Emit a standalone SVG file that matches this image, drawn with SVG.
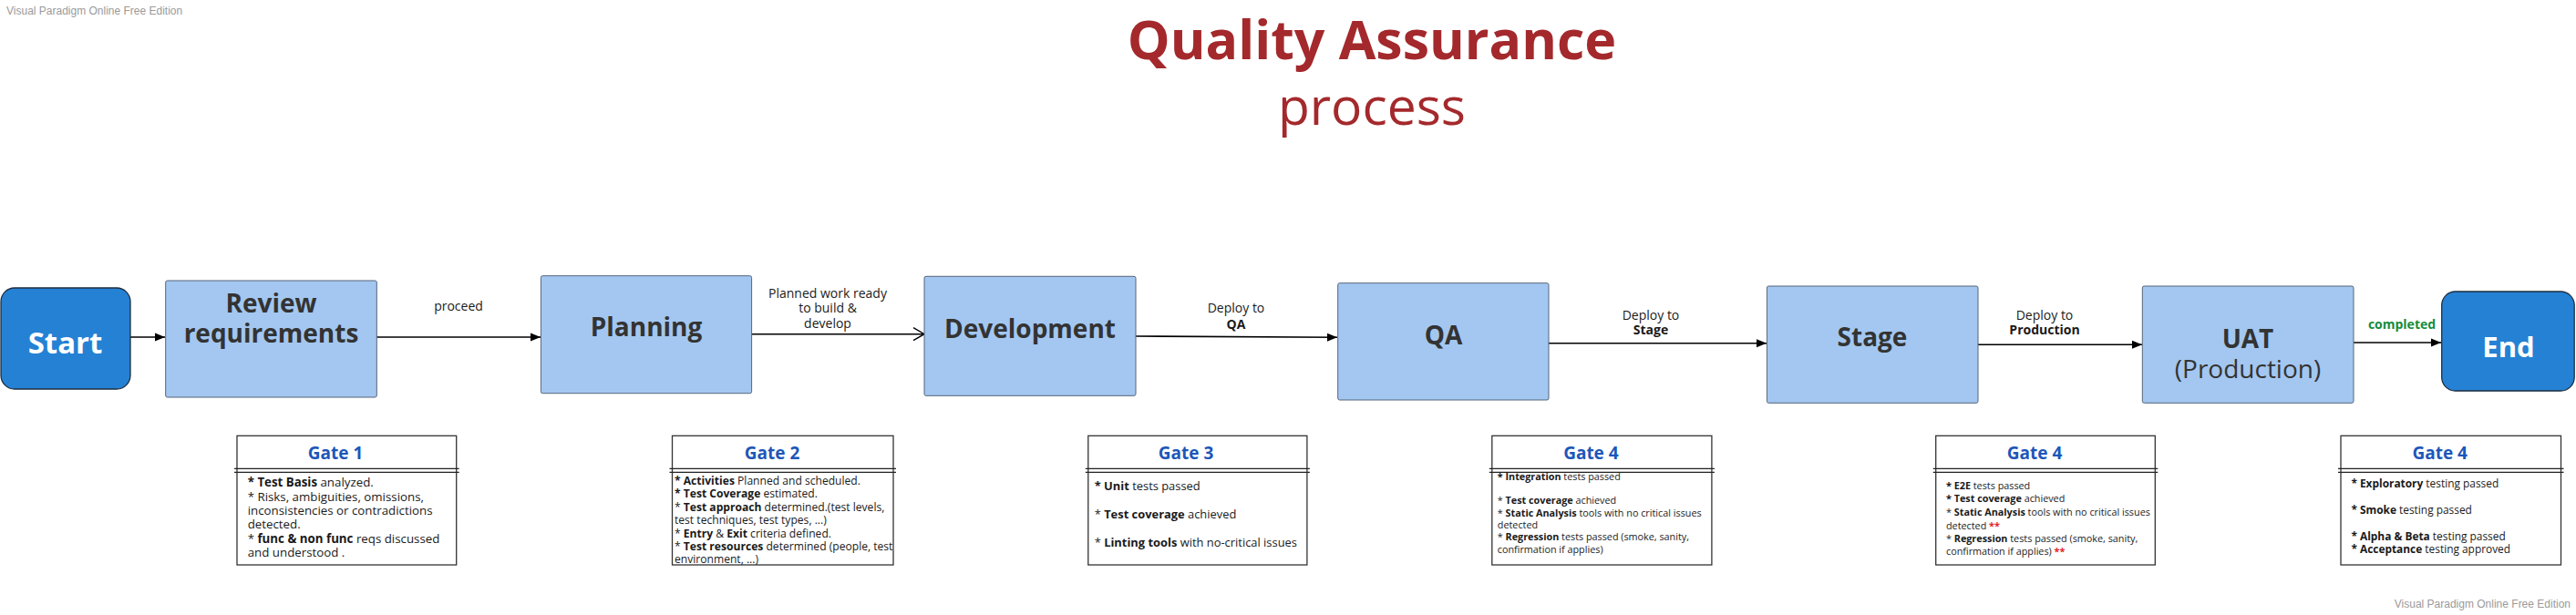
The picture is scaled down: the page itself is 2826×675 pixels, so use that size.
<svg xmlns="http://www.w3.org/2000/svg" width="2826" height="675" viewBox="0 0 2826 675">
<style>
.wm{font-family:"Liberation Sans",Arial,sans-serif;font-size:12px;fill:#9a9a9a}
.title{font-family:"Open Sans",sans-serif;fill:#a4292c;text-anchor:middle}
.term{fill:#2581d4;stroke:#1d2e40;stroke-width:1.3}
.termt{font-family:"Open Sans",sans-serif;font-weight:700;fill:#ffffff;text-anchor:middle}
.step{fill:#a3c7f0;stroke:#56657a;stroke-width:1}
.stept{font-family:"Open Sans",sans-serif;font-size:28px;font-weight:700;fill:#333333;text-anchor:middle}
.stepr{font-family:"Open Sans",sans-serif;font-size:28px;font-weight:400;fill:#333333;text-anchor:middle}
.lbl{font-family:"Open Sans",sans-serif;font-size:14px;fill:#1a1a1a;text-anchor:middle}
.done{font-family:"Open Sans",sans-serif;font-size:14px;font-weight:700;fill:#148c3c;text-anchor:middle}
.gate{fill:#ffffff;stroke:#333333;stroke-width:1.3}
.dl{stroke:#222222;stroke-width:1.3}
.gh{font-family:"Open Sans",sans-serif;font-size:19px;font-weight:700;fill:#1d56b9;text-anchor:middle}
.gt{font-family:"Open Sans",sans-serif;fill:#1a1a1a}
.b{font-weight:700}
.red{fill:#e3262b;font-weight:700}
.conn{stroke:#000000;stroke-width:1.6;fill:none}
</style>
<defs>
<marker id="arr" markerUnits="userSpaceOnUse" markerWidth="12" markerHeight="10" refX="11" refY="5" orient="auto">
<path d="M0,0.5 L11,5 L0,9.5 z" fill="#000000"/>
</marker>
<marker id="open" markerUnits="userSpaceOnUse" markerWidth="14" markerHeight="16" refX="13" refY="8" orient="auto">
<path d="M1,1 L13,8 L1,15" fill="none" stroke="#000000" stroke-width="1.4"/>
</marker>
</defs>

<text class="wm" x="7" y="16">Visual Paradigm Online Free Edition</text>
<text class="wm" x="2820" y="667" text-anchor="end">Visual Paradigm Online Free Edition</text>

<g id="title">
<text class="title" x="1505" y="65" font-size="59" font-weight="700">Quality Assurance</text>
<text class="title" x="1505" y="137" font-size="57">process</text>
</g>

<g id="connectors">
<path class="conn" d="M143,370 L181,370" marker-end="url(#arr)"/>
<path class="conn" d="M413,370 L593,370" marker-end="url(#arr)"/>
<path class="conn" d="M825,366.7 L1014,366.7" marker-end="url(#open)"/>
<path class="conn" d="M1246,369 L1467,370.3" marker-end="url(#arr)"/>
<path class="conn" d="M1699,376.7 L1938,376.7" marker-end="url(#arr)"/>
<path class="conn" d="M2170,378.3 L2350,378.3" marker-end="url(#arr)"/>
<path class="conn" d="M2582,376 L2678,376" marker-end="url(#arr)"/>
<text class="lbl" x="503" y="340.7">proceed</text>
<text class="lbl" x="908" y="326.7">Planned work ready<tspan x="908" y="343.3">to build &amp;</tspan><tspan x="908" y="360">develop</tspan></text>
<text class="lbl" x="1356" y="343.3">Deploy to<tspan x="1356" y="360.7" class="b">QA</tspan></text>
<text class="lbl" x="1811" y="350.7">Deploy to<tspan x="1811" y="367.3" class="b">Stage</tspan></text>
<text class="lbl" x="2243" y="350.7">Deploy to<tspan x="2243" y="367.3" class="b">Production</tspan></text>
<text class="done" x="2635" y="360.7">completed</text>
</g>

<g id="start">
<rect class="term" x="1" y="316" width="142" height="111" rx="15"/>
<text class="termt" x="71.5" y="388" font-size="33">Start</text>
</g>

<g id="review">
<rect class="step" x="181.7" y="308" width="231.6" height="128" rx="2"/>
<text class="stept" x="297.5" y="342.7">Review</text>
<text class="stept" x="297.5" y="376">requirements</text>
</g>

<g id="planning">
<rect class="step" x="593.4" y="302.7" width="231.2" height="129" rx="2"/>
<text class="stept" x="709" y="369.3">Planning</text>
</g>

<g id="development">
<rect class="step" x="1014" y="303.3" width="232" height="131" rx="2"/>
<text class="stept" x="1130" y="371">Development</text>
</g>

<g id="qa">
<rect class="step" x="1467.7" y="310.7" width="231.3" height="128.3" rx="2"/>
<text class="stept" x="1583.5" y="378.3">QA</text>
</g>

<g id="stage">
<rect class="step" x="1938.4" y="314" width="231.6" height="128.3" rx="2"/>
<text class="stept" x="2054" y="380">Stage</text>
</g>

<g id="uat">
<rect class="step" x="2350.3" y="314" width="231.7" height="128.3" rx="2"/>
<text class="stept" x="2466" y="382.3">UAT</text>
<text class="stepr" x="2466" y="415">(Production)</text>
</g>

<g id="end">
<rect class="term" x="2678.7" y="320" width="145.5" height="109" rx="15"/>
<text class="termt" x="2752" y="391.7" font-size="31">End</text>
</g>

<g id="gate1">
<rect class="gate" x="260" y="478.3" width="240.7" height="141.7"/>
<line class="dl" x1="257" y1="514.3" x2="503.7" y2="514.3"/>
<line class="dl" x1="257" y1="518.3" x2="503.7" y2="518.3"/>
<text class="gh" x="368" y="504.3">Gate 1</text>
<text class="gt" font-size="13.3">
<tspan x="271.7" y="534.3"><tspan class="b">* Test Basis</tspan> analyzed.</tspan>
<tspan x="271.7" y="550">* Risks, ambiguities, omissions,</tspan>
<tspan x="271.7" y="565">inconsistencies or contradictions</tspan>
<tspan x="271.7" y="580.3">detected.</tspan>
<tspan x="271.7" y="596">* <tspan class="b">func &amp; non func</tspan> reqs discussed</tspan>
<tspan x="271.7" y="611">and understood .</tspan>
</text>
</g>

<g id="gate2">
<rect class="gate" x="737.5" y="478.3" width="242.5" height="141.7"/>
<line class="dl" x1="734.5" y1="514.3" x2="983" y2="514.3"/>
<line class="dl" x1="734.5" y1="518.3" x2="983" y2="518.3"/>
<text class="gh" x="847" y="504.3">Gate 2</text>
<text class="gt" font-size="12.1">
<tspan x="740" y="532"><tspan class="b">* Activities</tspan> Planned and scheduled.</tspan>
<tspan x="740" y="546"><tspan class="b">* Test Coverage</tspan> estimated.</tspan>
<tspan x="740" y="560.7">* <tspan class="b">Test approach</tspan> determined.(test levels,</tspan>
<tspan x="740" y="575">test techniques, test types, ...)</tspan>
<tspan x="740" y="589.7">* <tspan class="b">Entry</tspan> &amp; <tspan class="b">Exit</tspan> criteria defined.</tspan>
<tspan x="740" y="604">* <tspan class="b">Test resources</tspan> determined (people, test</tspan>
<tspan x="740" y="618">environment, ...)</tspan>
</text>
</g>

<g id="gate3">
<rect class="gate" x="1193.8" y="478.3" width="240.1" height="141.7"/>
<line class="dl" x1="1190.8" y1="514.3" x2="1436.9" y2="514.3"/>
<line class="dl" x1="1190.8" y1="518.3" x2="1436.9" y2="518.3"/>
<text class="gh" x="1301" y="504.3">Gate 3</text>
<text class="gt" font-size="12.9">
<tspan x="1200.7" y="537.7"><tspan class="b">* Unit</tspan> tests passed</tspan>
<tspan x="1200.7" y="569">* <tspan class="b">Test coverage</tspan> achieved</tspan>
<tspan x="1200.7" y="600">* <tspan class="b">Linting tools</tspan> with no-critical issues</tspan>
</text>
</g>

<g id="gate4-qa">
<rect class="gate" x="1636.8" y="478.3" width="241.1" height="141.7"/>
<line class="dl" x1="1633.8" y1="514.3" x2="1880.9" y2="514.3"/>
<line class="dl" x1="1633.8" y1="518.3" x2="1880.9" y2="518.3"/>
<text class="gh" x="1745.4" y="504.3">Gate 4</text>
<text class="gt" font-size="10.8">
<tspan x="1642.8" y="526.7"><tspan class="b">* Integration</tspan> tests passed</tspan>
<tspan x="1642.8" y="552.7">* <tspan class="b">Test coverage</tspan> achieved</tspan>
<tspan x="1642.8" y="566.7">* <tspan class="b">Static Analysis</tspan> tools with no critical issues</tspan>
<tspan x="1642.8" y="580">detected</tspan>
<tspan x="1642.8" y="593.3">* <tspan class="b">Regression</tspan> tests passed (smoke, sanity,</tspan>
<tspan x="1642.8" y="606.7">confirmation if applies)</tspan>
</text>
</g>

<g id="gate4-stage">
<rect class="gate" x="2123.7" y="478.3" width="240.6" height="141.7"/>
<line class="dl" x1="2120.7" y1="514.3" x2="2367.3" y2="514.3"/>
<line class="dl" x1="2120.7" y1="518.3" x2="2367.3" y2="518.3"/>
<text class="gh" x="2232" y="504.3">Gate 4</text>
<text class="gt" font-size="10.8">
<tspan x="2135" y="536.7"><tspan class="b">* E2E</tspan> tests passed</tspan>
<tspan x="2135" y="551"><tspan class="b">* Test coverage</tspan> achieved</tspan>
<tspan x="2135" y="566">* <tspan class="b">Static Analysis</tspan> tools with no critical issues</tspan>
<tspan x="2135" y="580.5">detected <tspan class="red">**</tspan></tspan>
<tspan x="2135" y="595">* <tspan class="b">Regression</tspan> tests passed (smoke, sanity,</tspan>
<tspan x="2135" y="609.3">confirmation if applies)  <tspan class="red">**</tspan></tspan>
</text>
</g>

<g id="gate4-uat">
<rect class="gate" x="2568" y="478.3" width="241.5" height="141.7"/>
<line class="dl" x1="2565" y1="514.3" x2="2812.5" y2="514.3"/>
<line class="dl" x1="2565" y1="518.3" x2="2812.5" y2="518.3"/>
<text class="gh" x="2676.7" y="504.3">Gate 4</text>
<text class="gt" font-size="11.9">
<tspan x="2579.4" y="535"><tspan class="b">* Exploratory</tspan> testing passed</tspan>
<tspan x="2579.4" y="564"><tspan class="b">* Smoke</tspan> testing passed</tspan>
<tspan x="2579.4" y="592.7"><tspan class="b">* Alpha &amp; Beta</tspan> testing passed</tspan>
<tspan x="2579.4" y="606.7"><tspan class="b">* Acceptance</tspan> testing approved</tspan>
</text>
</g>
</svg>
